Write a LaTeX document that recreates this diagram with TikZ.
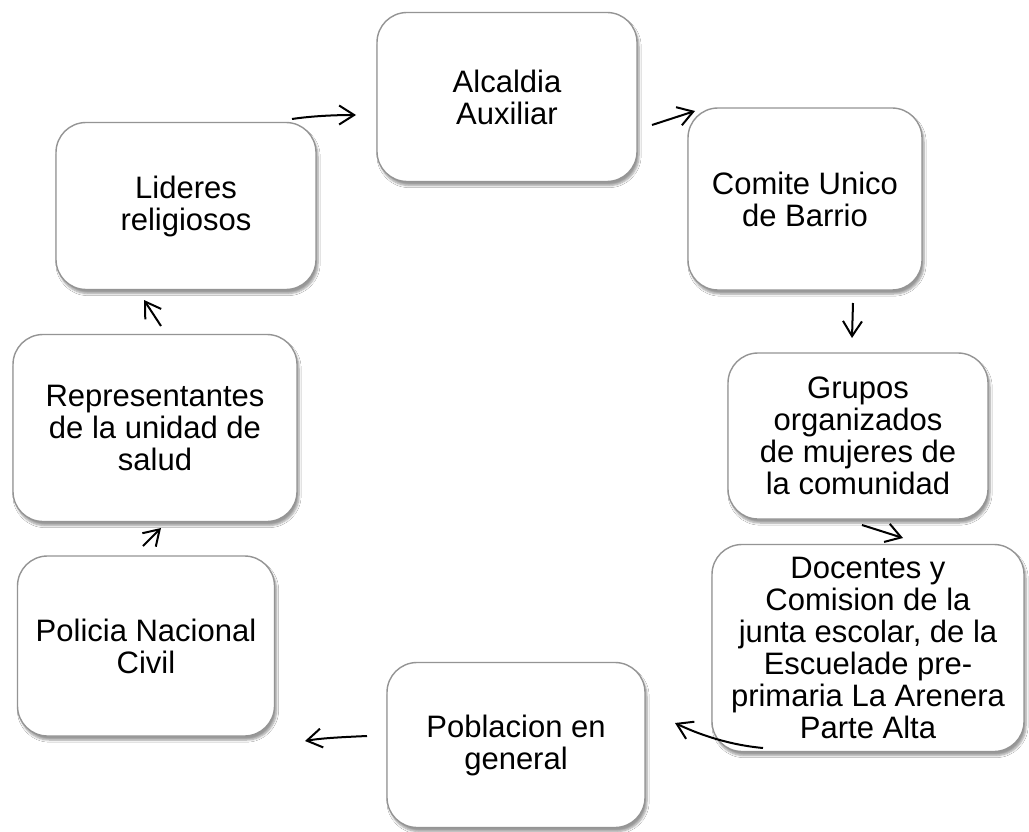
\documentclass[tikz,border=0pt]{standalone}
\usepackage{fontspec}
\setmainfont{Liberation Sans}
\usetikzlibrary{arrows.meta,shadows.blur}
\begin{document}
\begin{tikzpicture}[x=1pt,y=-1pt,
  box/.style={draw=black!42, line width=1.4pt, fill=white, rounded corners=30pt,
    align=center, inner sep=0pt, font=\fontsize{31}{32}\selectfont,
    blur shadow={shadow xshift=2pt, shadow yshift=-4pt, shadow blur steps=6, shadow blur extra rounding=2pt}},
  arr/.style={draw=black, line width=2pt, -{Straight Barb[length=15pt,width=19pt,line width=2pt]}}]
\useasboundingbox[fill=white] (0,0) rectangle (1029,832);
% boxes
\node[box, minimum width=260pt, minimum height=169pt] (alc) at (507,97) {Alcaldia\\Auxiliar};
\node[box, minimum width=234pt, minimum height=182pt] (com) at (805,199) {Comite Unico\\de Barrio};
\node[box, minimum width=260pt, minimum height=166pt] (gru) at (858,436) {Grupos\\organizados\\de mujeres de\\la comunidad};
\node[box, minimum width=312pt, minimum height=207pt] (doc) at (868,648) {Docentes y\\Comision de la\\junta escolar, de la\\Escuelade pre-\\primaria La Arenera\\Parte Alta};
\node[box, minimum width=258pt, minimum height=165pt] (pob) at (516,745) {Poblacion en\\general};
\node[box, minimum width=257pt, minimum height=180pt] (pol) at (146,646) {Policia Nacional\\Civil};
\node[box, minimum width=284pt, minimum height=187pt] (rep) at (155,428) {Representantes\\de la unidad de\\salud};
\node[box, minimum width=260pt, minimum height=167pt] (lid) at (186,206) {Lideres\\religiosos};
% arrow end points
\coordinate (a1s) at (292,119); \coordinate (a1e) at (356,115);
\coordinate (a2s) at (652,125); \coordinate (a2e) at (695,111);
\coordinate (a3s) at (853,303); \coordinate (a3e) at (852,338);
\coordinate (a4s) at (862,525); \coordinate (a4e) at (903,538);
\coordinate (a5s) at (763,748); \coordinate (a5e) at (675,723);
\coordinate (a6s) at (367,736); \coordinate (a6e) at (305,741);
\coordinate (a7s) at (143,546); \coordinate (a7e) at (161,528);
\coordinate (a8s) at (161,326); \coordinate (a8e) at (144,300);
% arrows
\draw[arr] (a1s) .. controls (312,116) and (335,115) .. (a1e);
\draw[arr] (a2s) -- (a2e);
\draw[arr] (a3s) -- (a3e);
\draw[arr] (a4s) -- (a4e);
\draw[arr] (a5s) .. controls (730,745) and (700,735) .. (a5e);
\draw[arr] (a6s) .. controls (345,737) and (322,738) .. (a6e);
\draw[arr] (a7s) -- (a7e);
\draw[arr] (a8s) -- (a8e);
\end{tikzpicture}
\end{document}
